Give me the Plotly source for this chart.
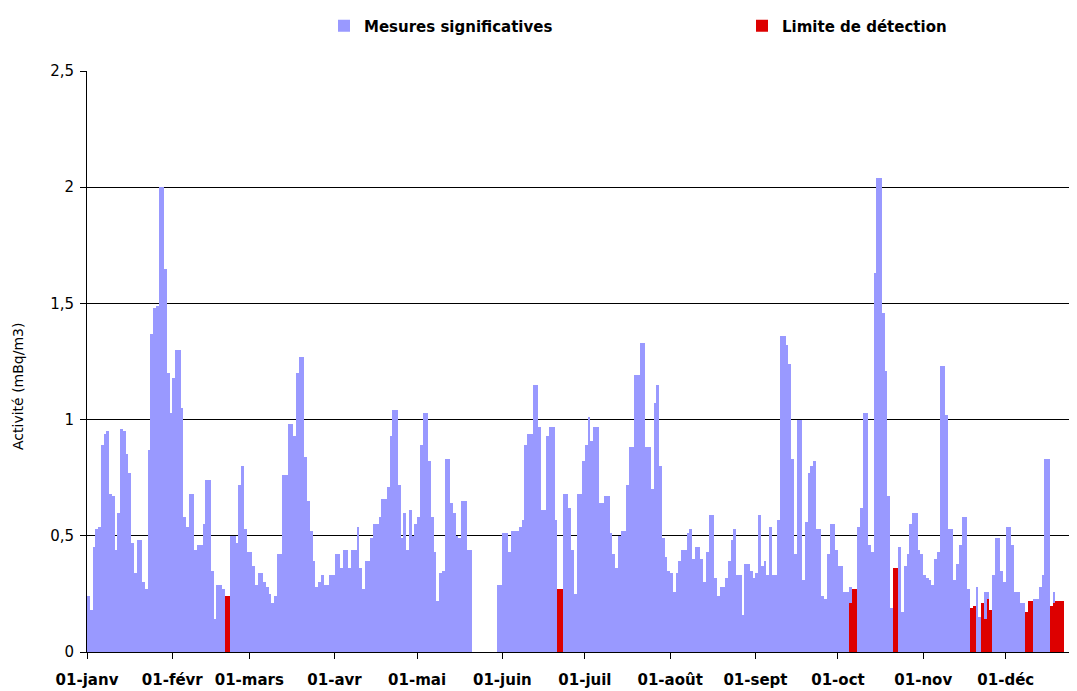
import pandas as pd
import plotly.graph_objects as go

# ---- Data (daily activity, mBq/m3) ----
year = 2010
jan = [0.24, 0.18, 0.45, 0.53, 0.54, 0.89, 0.94, 0.95, 0.68, 0.67, 0.44, 0.60, 0.96, 0.95, 0.85, 0.77,
       0.47, 0.34, 0.48, 0.48, 0.30, 0.27, 0.87, 1.37, 1.48, 1.49, 2.00, 2.00, 1.65, 1.20, 1.03]
feb = [1.18, 1.30, 1.30, 1.05, 0.58, 0.54, 0.68, 0.68, 0.44, 0.46, 0.46, 0.55, 0.74, 0.74, 0.35, 0.14,
       0.29, 0.29, 0.27, None, None, 0.50, 0.50, 0.47, 0.72, 0.80, 0.53, 0.43]
mar = [0.43, 0.37, 0.29, 0.34, 0.34, 0.30, 0.28, 0.25, 0.21, 0.24, 0.42, 0.42, 0.76, 0.76, 0.98, 0.98,
       0.93, 1.20, 1.27, 1.27, 0.84, 0.65, 0.52, 0.39, 0.28, 0.30, 0.33, 0.29, 0.29, 0.33, 0.33]
apr = [0.42, 0.42, 0.36, 0.44, 0.44, 0.36, 0.44, 0.44, 0.54, 0.36, 0.27, 0.39, 0.39, 0.49, 0.55, 0.55,
       0.58, 0.66, 0.66, 0.71, 0.93, 1.04, 1.04, 0.72, 0.49, 0.60, 0.44, 0.61, 0.50, 0.55]
may = [0.58, 0.89, 1.03, 1.03, 0.82, 0.58, 0.43, 0.22, 0.34, 0.35, 0.83, 0.83, 0.64, 0.60, 0.50, 0.49,
       0.65, 0.65, 0.44, 0.44, None, None, None, None, None, None, None, None, None, 0.29, 0.29]
jun = [0.51, 0.51, 0.43, 0.52, 0.52, 0.52, 0.54, 0.57, 0.89, 0.94, 0.94, 1.15, 1.15, 0.97, 0.61, 0.61,
       0.93, 0.97, 0.97, 0.57, None, None, 0.68, 0.68, 0.62, 0.44, 0.25, 0.68, 0.68, 0.82]
jul = [0.89, 1.01, 0.91, 0.97, 0.97, 0.64, 0.64, 0.67, 0.67, 0.51, 0.42, 0.36, 0.50, 0.52, 0.52, 0.72,
       0.88, 0.88, 1.19, 1.19, 1.33, 1.33, 0.88, 0.88, 0.70, 1.07, 1.15, 0.80, 0.49, 0.41, 0.35]
aug = [0.34, 0.26, 0.34, 0.39, 0.44, 0.44, 0.51, 0.53, 0.40, 0.45, 0.45, 0.40, 0.30, 0.43, 0.59, 0.59,
       0.32, 0.24, 0.28, 0.28, 0.32, 0.39, 0.48, 0.53, 0.33, 0.33, 0.16, 0.38, 0.38, 0.35, 0.32]
sep = [0.34, 0.59, 0.37, 0.39, 0.33, 0.54, 0.33, 0.33, 0.57, 1.36, 1.36, 1.32, 1.24, 0.83, 0.42, 1.00,
       1.00, 0.31, 0.56, 0.77, 0.80, 0.82, 0.53, 0.53, 0.24, 0.23, 0.42, 0.55, 0.55, 0.44]
oct_ = [0.37, 0.37, 0.26, 0.26, 0.28, None, None, 0.54, 0.62, 1.03, 1.03, 0.46, 0.43, 1.63, 2.04, 2.04,
        1.46, 1.21, 0.67, 0.19, None, None, 0.45, 0.17, 0.37, 0.42, 0.55, 0.60, 0.60, 0.44, 0.42]
nov = [0.33, 0.32, 0.31, 0.29, 0.40, 0.43, 1.23, 1.23, 1.02, 0.53, 0.53, 0.31, 0.38, 0.46, 0.58, 0.58,
       0.27, None, None, 0.28, 0.15, None, 0.26, 0.26, None, 0.33, 0.49, 0.49, 0.35, 0.30]
dec = [0.54, 0.54, 0.46, 0.26, 0.26, 0.21, 0.21, None, None, None, 0.23, 0.23, 0.28, 0.33, 0.83, 0.83,
       None, 0.26, None, None, None, None, None, None, None, None, None, None, None, None, None]

# Days at the detection limit
detect_dates = ["2010-02-20", "2010-02-21", "2010-06-21", "2010-06-22",
                "2010-10-05", "2010-10-06", "2010-10-07", "2010-10-21", "2010-10-22",
                "2010-11-18", "2010-11-19", "2010-11-22", "2010-11-23", "2010-11-24", "2010-11-25",
                "2010-12-08", "2010-12-09", "2010-12-10",
                "2010-12-17", "2010-12-18", "2010-12-19", "2010-12-20", "2010-12-21"]
detect_values = [0.24, 0.24, 0.27, 0.27,
                 0.21, 0.27, 0.27, 0.36, 0.36,
                 0.19, 0.20, 0.21, 0.14, 0.23, 0.18,
                 0.17, 0.22, 0.22,
                 0.20, 0.21, 0.22, 0.22, 0.22]

month_ticks = ["01-janv", "01-févr", "01-mars", "01-avr", "01-mai", "01-juin",
               "01-juil", "01-août", "01-sept", "01-oct", "01-nov", "01-déc"]

# ---- Build ----
values = jan + feb + mar + apr + may + jun + jul + aug + sep + oct_ + nov + dec
days = pd.date_range(f"{year}-01-01", periods=len(values), freq="D")
tick_dates = pd.date_range(f"{year}-01-01", periods=12, freq="MS")

DAY_MS = 86400000
LAV = "#9999FF"
RED = "#DD0000"
FONT = "DejaVu Sans"

# page body has an 8px margin: figure occupies page x 8..1077, y 8..691
W, H = 1069, 683
ML, MR, MT, MB = 79, 0, 63, 39

fig = go.Figure()
fig.add_trace(go.Bar(
    x=days, y=values, name="Mesures significatives",
    marker=dict(color=LAV, line=dict(width=0)),
    xperiod=DAY_MS, xperiodalignment="middle", width=DAY_MS,
))
fig.add_trace(go.Bar(
    x=pd.to_datetime(detect_dates), y=detect_values, name="Limite de détection",
    marker=dict(color=RED, line=dict(width=0)),
    xperiod=DAY_MS, xperiodalignment="middle", width=DAY_MS,
))

end = pd.Timestamp(f"{year}-01-01") + pd.Timedelta(days=359.9)
fig.update_layout(
    width=W, height=H,
    margin=dict(l=ML, r=MR, t=MT, b=MB, autoexpand=False),
    paper_bgcolor="white", plot_bgcolor="white",
    barmode="overlay", bargap=0,
    separators=", ",
    font=dict(family=FONT, color="#000000", size=13),
    legend=dict(
        orientation="h", xref="container", yref="container",
        x=316 / W, xanchor="left", y=1 - 18 / H, yanchor="middle",
        entrywidth=373, entrywidthmode="pixels",
        font=dict(family=FONT, size=15, weight="bold", color="#000000"),
        bgcolor="rgba(0,0,0,0)",
    ),
    showlegend=True,
)
fig.update_xaxes(
    type="date", range=[pd.Timestamp(f"{year}-01-01"), end],
    tickmode="array", tickvals=tick_dates, ticktext=month_ticks,
    showgrid=False, showline=True, linecolor="#000000", linewidth=1,
    ticks="outside", ticklen=6, tickcolor="#000000",
    ticklabelstandoff=8,
    tickfont=dict(family=FONT, size=15, weight="bold", color="#000000"),
    zeroline=False,
)
fig.update_yaxes(
    range=[0, 2.5], dtick=0.5, tick0=0,
    showgrid=True, gridcolor="#000000", gridwidth=1,
    showline=True, linecolor="#000000", linewidth=1,
    ticks="outside", ticklen=6, tickcolor="#000000",
    ticklabelstandoff=3,
    tickfont=dict(family=FONT, size=15, color="#000000"),
    zeroline=False,
)
fig.add_annotation(
    text="Activité (mBq/m3)", textangle=-90,
    xref="paper", yref="paper", x=(10 - ML) / (W - ML - MR), y=(652 - 387) / 581,
    xanchor="center", yanchor="middle",
    showarrow=False, font=dict(family=FONT, size=14, color="#000000"),
)

fig.write_html("out.html")
